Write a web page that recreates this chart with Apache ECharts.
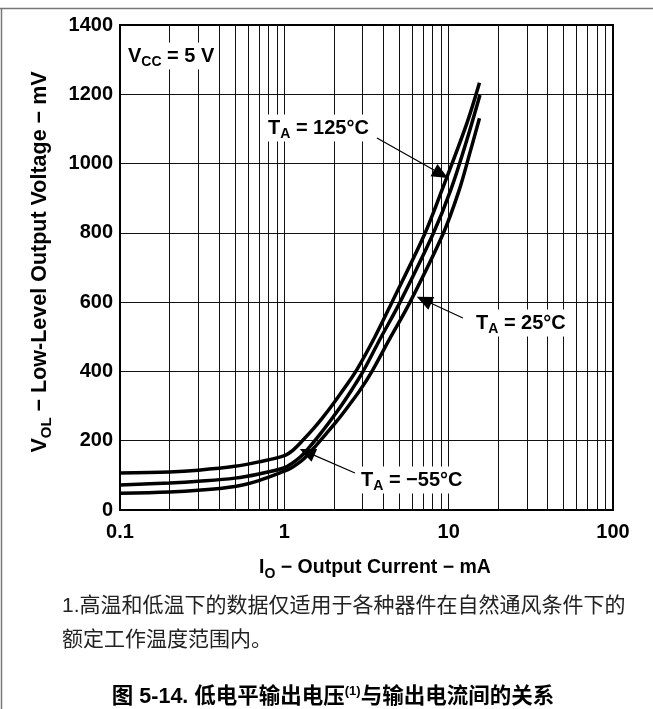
<!DOCTYPE html>
<html><head><meta charset="utf-8">
<script src="https://cdn.jsdelivr.net/npm/echarts@6/dist/echarts.min.js"></script>
<style>html,body{margin:0;padding:0;background:#fff}#c{width:653px;height:709px}</style>
</head><body><div id="c"></div>
<script>
// ---- data (mA, mV) ----
const xTickLabels = ['0.1', '1', '10', '100'];
const yTickLabels = [0, 200, 400, 600, 800, 1000, 1200, 1400];
const minorGridX = [0.2,0.3,0.4,0.5,0.6,0.7,0.8,0.9,1,2,3,4,5,6,7,8,9,10,20,30,40,50,60,70,80,90];

// TA = 125°C : highest curve
const current125 = [0.1, 0.2, 0.3, 0.5, 0.7, 1.0, 1.13, 1.3, 1.5, 1.72, 1.98, 2.34, 2.77, 3.56, 4.52, 7.18, 9.11, 12.9, 15.4];
const voltage125 = [107, 110, 115, 126, 139, 157, 173, 202, 234, 268, 306, 354, 406, 500, 600, 799, 924, 1116, 1233];
// TA = 25°C : middle curve
const current25 = [0.1, 0.2, 0.3, 0.5, 0.7, 1.0, 1.1, 1.25, 1.43, 1.65, 1.9, 2.24, 2.58, 3.02, 3.82, 5.06, 8.07, 10.3, 12.9, 15.5];
const voltage25 = [72, 78, 83, 92, 104, 122, 133, 153, 183, 219, 257, 304, 348, 401, 493, 600, 799, 924, 1068, 1198];
// TA = -55°C : lowest curve
const currentM55 = [0.1, 0.2, 0.3, 0.5, 0.7, 1.0, 1.1, 1.2, 1.32, 1.54, 1.79, 2.09, 2.49, 2.89, 3.4, 4.34, 5.82, 9.28, 11.6, 13.5, 15.4];
const voltageM55 = [48, 52, 57, 68, 85, 112, 121, 133, 149, 183, 219, 257, 304, 346, 399, 491, 600, 799, 924, 1033, 1131];

// annotation arrows: [from, to] in (mA, mV)
const arrow125 = [[3.66, 1074], [8.98, 970]];
const arrow25 = [[12.2, 554], [7.08, 606]];
const arrowM55 = [[2.69, 107], [1.374, 167]];

const zip = (xs, ys) => xs.map((x, i) => [x, ys[i]]);
const LAT = 'Liberation Sans, Arial, sans-serif';
const CJK = 'Liberation Sans, "Noto Sans CJK SC", sans-serif';

const chart = echarts.init(document.getElementById('c'), null, {renderer: 'canvas'});

const curveStyle = {color: '#000', width: 3.5};
const mkCurve = (name, xs, ys) => ({
  name, type: 'line', data: zip(xs, ys), showSymbol: false, symbol: 'none',
  smooth: 0.35, lineStyle: curveStyle, z: 5, silent: true
});

const annRich = {
  n: {fontFamily: LAT, fontWeight: 'bold', fontSize: 20, color: '#000'},
  s: {fontFamily: LAT, fontWeight: 'bold', fontSize: 14, color: '#000', padding: [13, 0, 0, 0]}
};
const mkTitleRich = (fs) => ({
  n: {fontFamily: LAT, fontWeight: 'bold', fontSize: fs, color: '#000'},
  s: {fontFamily: LAT, fontWeight: 'bold', fontSize: Math.round(fs * 0.7), color: '#000', padding: [13, 0, 0, 0]}
});
const mkAnn = (x, y, text) => ({
  type: 'text', x, y, z: 100,
  style: {text, rich: annRich, align: 'left', verticalAlign: 'middle', backgroundColor: '#fff', padding: [0, 2, 0, 2]}
});

chart.setOption({
  backgroundColor: '#fff',
  animation: false,
  grid: {left: 120, top: 25, width: 493, height: 485, show: true, borderColor: '#000', borderWidth: 2, backgroundColor: 'transparent', z: 10},
  xAxis: {
    type: 'log', logBase: 10, min: 0.1, max: 100,
    axisLine: {show: false}, axisTick: {show: false}, splitLine: {show: false}, minorTick: {show: false},
    axisLabel: {
      fontFamily: LAT, fontWeight: 'bold', fontSize: 20, color: '#000', margin: 12,
      formatter: v => { const i = Math.round(Math.log10(v)) + 1; return xTickLabels[i] || ''; }
    }
  },
  yAxis: {
    type: 'value', min: 0, max: 1400, interval: 200,
    axisLine: {show: false}, axisTick: {show: false},
    splitLine: {show: true, lineStyle: {color: '#111', width: 1}},
    axisLabel: {fontFamily: LAT, fontWeight: 'bold', fontSize: 20, color: '#000', margin: 7,
      formatter: v => String(yTickLabels[Math.round(v / 200)])}
  },
  series: [
    {
      type: 'line', data: [], silent: true,
      markLine: {
        silent: true, symbol: 'none', animation: false, label: {show: false},
        lineStyle: {color: '#111', width: 1, type: 'solid'},
        data: minorGridX.map(v => ({xAxis: v}))
      }
    },
    mkCurve('125', current125, voltage125),
    mkCurve('25', current25, voltage25),
    mkCurve('-55', currentM55, voltageM55),
    {
      type: 'line', data: [], silent: true, z: 6,
      markLine: {
        silent: true, animation: false, symbol: ['none', 'triangle'], symbolSize: [14, 16],
        label: {show: false},
        lineStyle: {color: '#000', width: 1.2, type: 'solid'},
        itemStyle: {color: '#000'},
        data: [arrow125, arrow25, arrowM55].map(a => [{coord: a[0]}, {coord: a[1]}])
      }
    }
  ],
  graphic: [
    {type: 'line', z: 100, shape: {x1: 0, y1: 8.5, x2: 653, y2: 8.5}, style: {stroke: '#777', lineWidth: 1.5}},
    {type: 'line', z: 100, shape: {x1: 1.5, y1: 8, x2: 1.5, y2: 709}, style: {stroke: '#777', lineWidth: 1.5}},
    mkAnn(126, 56, '{n|V}{s|CC}{n| = 5 V}'),
    mkAnn(266, 128, '{n|T}{s|A}{n| = 125°C}'),
    mkAnn(474, 323, '{n|T}{s|A}{n| = 25°C}'),
    mkAnn(359, 480, '{n|T}{s|A}{n| = \u221255°C}'),
    {type: 'text', z: 100, x: 375, y: 568, style: {text: '{n|I}{s|O}{n| \u2212 Output Current \u2212 mA}', rich: mkTitleRich(19.5), align: 'center', verticalAlign: 'middle'}},
    {type: 'text', z: 100, x: 40, y: 262, rotation: Math.PI / 2, style: {text: '{n|V}{s|OL}{n| \u2212 Low-Level Output Voltage \u2212 mV}', rich: mkTitleRich(21.5), align: 'center', verticalAlign: 'middle'}},
    {type: 'text', z: 100, x: 62, y: 606, style: {text: '1.高温和低温下的数据仅适用于各种器件在自然通风条件下的', font: '21px ' + CJK, fill: '#222', align: 'left', verticalAlign: 'middle'}},
    {type: 'text', z: 100, x: 62, y: 640, style: {text: '额定工作温度范围内。', font: '21px ' + CJK, fill: '#222', align: 'left', verticalAlign: 'middle'}},
    {type: 'text', z: 100, x: 333, y: 697, style: {
      text: '{b|图 5-14. 低电平输出电压}{p|(1)}{b|与输出电流间的关系}', align: 'center', verticalAlign: 'middle',
      rich: {
        b: {fontFamily: CJK, fontWeight: 'bold', fontSize: 21.5, color: '#000'},
        p: {fontFamily: CJK, fontWeight: 'bold', fontSize: 13, color: '#000', padding: [0, 0, 12, 0]}
      }
    }}
  ]
});
</script></body></html>
